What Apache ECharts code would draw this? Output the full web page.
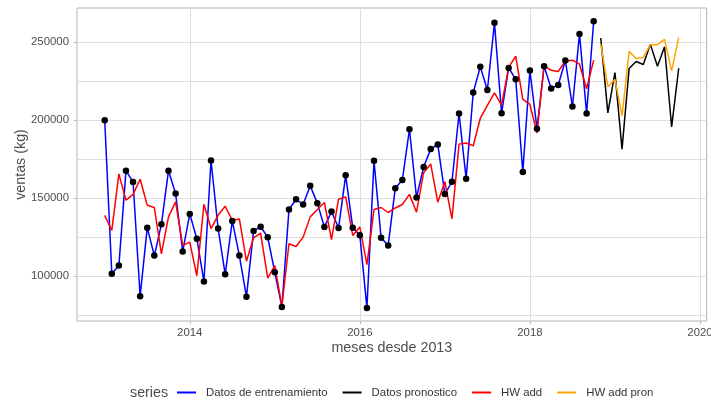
<!DOCTYPE html>
<html>
<head>
<meta charset="utf-8">
<script src="https://cdn.jsdelivr.net/npm/echarts@6/dist/echarts.min.js"></script>
<style>
html,body{margin:0;padding:0;background:#fff;}
#chart{width:711px;height:400px;}
</style>
</head>
<body>
<div id="chart"></div>
<script>
// Monthly series, starting January 2013
var startYear = 2013;
var trainValues = [199900,101600,106800,167600,160300,87200,131100,113200,133200,167600,153000,115800,
139900,124000,96600,174100,130600,101200,135400,113200,86800,128900,131700,125000,
102500,80300,142700,149300,145900,157900,146800,131500,141400,130900,164600,131100,
126300,79700,173900,124600,119700,156400,161600,194100,150400,170000,181400,184400,
152600,160500,204200,162500,217700,234100,219300,262300,204400,233400,226100,166800,
231700,194500,234500,220300,222500,238200,208700,255200,204200,263300];
var hwAddValues = [139000,129300,165500,148700,152400,162100,145500,144000,114300,138000,147600,119700,
121800,100300,146100,130500,139000,144800,135800,136700,109600,124600,127600,98800,
106800,80800,120800,119000,125000,138000,142700,147200,123500,149300,150800,126100,
131500,107400,142700,144000,140800,143700,145900,152400,141000,166300,171900,147400,
160500,136700,184600,185300,183600,201200,209400,217500,209600,233700,241000,213200,
210000,191700,234700,231900,231100,237900,238400,235800,220100,238400];
var forecastValues = [252600,204600,230400,181400,233000,237500,235600,248500,234500,247000,195600,233200];
var hwPronValues = [248700,221400,226100,202700,244000,239500,240100,248300,248300,251700,231500,252800];
var seriesNames = ['Datos de entrenamiento','Datos pronostico','HW add','HW add pron'];
var xTicks = [2014,2016,2018,2020];
var yMajorTicks = [100000,150000,200000,250000];
var yAllGrid = [75000,100000,125000,150000,175000,200000,225000,250000];

function toPairs(values, offset){
  return values.map(function(v,i){ return [startYear + (i+offset)/12, v]; });
}
var trainPairs = toPairs(trainValues, 0);
var hwPairs = toPairs(hwAddValues, 0);
var fcPairs = toPairs(forecastValues, trainValues.length);
var pronPairs = toPairs(hwPronValues, trainValues.length);

var FONT = "'Liberation Sans', Arial, Helvetica, sans-serif";
var chart = echarts.init(document.getElementById('chart'), null, {renderer:'canvas'});
var linePath = 'path://M0,0 L19,0 L19,2 L0,2 Z';
function plain(v){ return String(Math.round(v)); }

chart.setOption({
  animation:false,
  backgroundColor:'#ffffff',
  grid:{left:77, top:8, right:4.3, bottom:79, outerBoundsMode:'none', containLabel:false, show:true, borderColor:'#B3B3B3', borderWidth:1, backgroundColor:'#ffffff'},
  graphic:[{type:'text', left:130, top:386, style:{text:'series', font:'14.3px ' + FONT, fill:'#4D4D4D'}}],
  legend:{
    left:177, top:387, padding:0, itemWidth:19, itemHeight:14, itemGap:15, icon:linePath,
    data:seriesNames,
    textStyle:{fontSize:11.4, color:'#333333', fontFamily:FONT, padding:[0,0,0,5]}
  },
  xAxis:{
    type:'value', min:2012.674, max:2020.079,
    axisLine:{show:false},
    axisTick:{show:true, length:3, lineStyle:{color:'#B3B3B3'}, customValues:xTicks},
    axisLabel:{customValues:xTicks, formatter:plain, margin:6, color:'#4D4D4D', fontSize:11.4, fontFamily:FONT, showMinLabel:true, showMaxLabel:true, hideOverlap:false},
    splitLine:{show:true, lineStyle:{color:'#DEDEDE', width:1}},
    name:'meses desde 2013', nameLocation:'middle', nameGap:20, nameMoveOverlap:false,
    nameTextStyle:{fontSize:14.3, color:'#4D4D4D', fontFamily:FONT}
  },
  yAxis:[{
    type:'value', min:71300, max:271800,
    axisLine:{show:false},
    axisTick:{show:false, customValues:yAllGrid},
    axisLabel:{customValues:yMajorTicks, formatter:plain, margin:8, color:'#4D4D4D', fontSize:11.4, fontFamily:FONT},
    splitLine:{show:true, lineStyle:{color:'#DEDEDE', width:1}},
    name:'ventas (kg)', nameLocation:'middle', nameGap:49, nameRotate:90, nameMoveOverlap:false,
    nameTextStyle:{fontSize:14.3, color:'#4D4D4D', fontFamily:FONT}
  },{
    type:'value', min:71300, max:271800, position:'left',
    axisLine:{show:false},
    axisTick:{show:true, length:3, lineStyle:{color:'#B3B3B3'}, customValues:yMajorTicks},
    axisLabel:{show:false},
    splitLine:{show:false}
  }],
  series:[
    {name:seriesNames[0], type:'line', data:trainPairs, showSymbol:false, symbol:'none', color:'#0000FF', lineStyle:{width:1.5, color:'#0000FF'}, z:2},
    {name:seriesNames[1], type:'line', data:fcPairs, showSymbol:false, symbol:'none', color:'#000000', lineStyle:{width:1.5, color:'#000000'}, z:3},
    {name:seriesNames[2], type:'line', data:hwPairs, showSymbol:false, symbol:'none', color:'#FF0000', lineStyle:{width:1.5, color:'#FF0000'}, z:4},
    {name:seriesNames[3], type:'line', data:pronPairs, showSymbol:false, symbol:'none', color:'#FFA500', lineStyle:{width:1.5, color:'#FFA500'}, z:5},
    {name:'puntos', type:'scatter', data:trainPairs, symbol:'circle', symbolSize:6.5, itemStyle:{color:'#000000', opacity:1}, z:6}
  ]
});
</script>
</body>
</html>
